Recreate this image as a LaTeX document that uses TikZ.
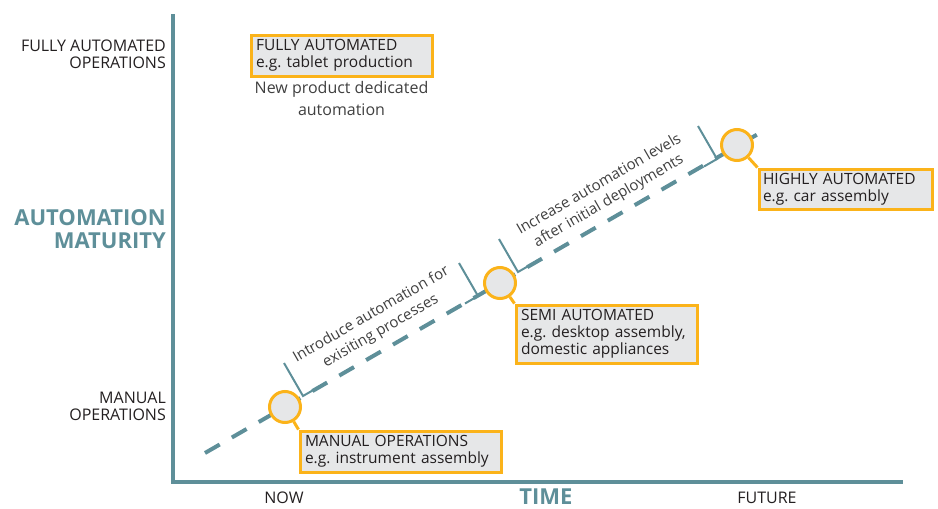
\documentclass[tikz,border=0pt]{standalone}
\usepackage{fontspec}
\setmainfont{Open Sans}
\usetikzlibrary{positioning}
\definecolor{axisteal}{HTML}{5E8F99}
\definecolor{stageamber}{HTML}{FBB31A}
\definecolor{stagegray}{HTML}{E6E7E8}
\definecolor{inkdark}{HTML}{231F20}
\frenchspacing
\begin{document}
\begin{tikzpicture}[x=1pt,y=-1pt,
	axis/.style={draw=axisteal,line width=4pt},
	track/.style={draw=axisteal,line width=4pt,dash pattern=on 17pt off 14pt},
	bracket/.style={draw=axisteal,line width=2pt},
	dot/.style={circle,draw=stageamber,fill=stagegray,line width=3pt,minimum size=31pt,inner sep=0pt},
	stage/.style={draw=stageamber,fill=stagegray,line width=3pt,anchor=north west,inner xsep=5pt,inner ysep=2pt,align=left,text=inkdark,font=\fontsize{15.5}{17}\selectfont},
	link/.style={draw=stageamber,line width=3pt},
	ylab/.style={inner sep=0pt,align=right,anchor=east,text=inkdark,font=\fontsize{16}{17}\selectfont},
	ytitle/.style={inner sep=0pt,align=right,anchor=east,text=axisteal,font=\bfseries\fontsize{22}{23}\selectfont},
	xlab/.style={inner sep=0pt,text=inkdark,font=\fontsize{16}{17}\selectfont},
	xtitle/.style={inner sep=0pt,text=axisteal,font=\bfseries\fontsize{22}{23}\selectfont},
	phase/.style={inner sep=0pt,align=center,rotate=30,text=black!75,font=\fontsize{15}{19}\selectfont},
	note/.style={inner sep=0pt,align=center,text=black!75,font=\fontsize{16}{22}\selectfont}]
	\useasboundingbox (0,0) rectangle (938,509);

	% axes
	\coordinate (ytop) at (173,14);
	\coordinate (origin) at (173,482);
	\coordinate (xend) at (903,482);
	\draw[axis] (ytop) -- (origin) -- (xend);

	\node[ylab] (lfull) at (166,54) {FULLY AUTOMATED\\OPERATIONS};
	\node[ytitle] (lmat) at (166,229) {AUTOMATION\\MATURITY};
	\node[ylab] (lman) at (166,406) {MANUAL\\OPERATIONS};
	\node[xlab] (lnow) at (284,498) {NOW};
	\node[xtitle] (ltime) at (546,497) {TIME};
	\node[xlab] (lfut) at (767,498) {FUTURE};

	% path of stages
	\coordinate (pstart) at (205,453);
	\coordinate (pend) at (765,130);
	\draw[track] (pstart) -- (pend);

	\coordinate (b1) at (303,396);
	\coordinate (b2) at (478,296);
	\coordinate (b3) at (518,272);
	\coordinate (b4) at (717,159);
	\draw[bracket] (b1) ++(-19,-33) -- (b1) -- ++(13,-7.5);
	\draw[bracket] (b2) ++(-19,-33) -- (b2) -- ++(-13,7.5);
	\draw[bracket] (b3) ++(-19,-33) -- (b3) -- ++(13,-7.5);
	\draw[bracket] (b4) ++(-19,-33) -- (b4) -- ++(-13,7.5);
	\node[phase] (tintro) at (376,323) {Introduce automation for\\exisiting processes};
	\node[phase] (tincr) at (604,193) {Increase automation levels\\after initial deployments};

	% stages
	\node[dot] (dman) at (285,407) {};
	\node[dot] (dsemi) at (500,283) {};
	\node[dot] (dhigh) at (737,145) {};

	\node[stage,text width=191pt,minimum height=41pt] (sman) at (298.5,429.5) {MANUAL OPERATIONS\\e.g. instrument assembly};
	\node[stage,text width=171pt,minimum height=58pt] (ssemi) at (514.5,303.5) {SEMI AUTOMATED\\e.g. desktop assembly,\\domestic appliances};
	\node[stage,text width=165pt,minimum height=40pt,inner xsep=4pt] (shigh) at (757.5,167.5) {HIGHLY AUTOMATED\\e.g. car assembly};
	\node[stage,text width=171pt,minimum height=41pt] (sfull) at (249.5,33.5) {FULLY AUTOMATED\\e.g. tablet production};
	\node[note,below=4pt of sfull] (nfull) {New product dedicated\\automation};

	\draw[link] (dman) -- (sman.north west);
	\draw[link] (dsemi) -- (ssemi.north west);
	\draw[link] (dhigh) -- (shigh.north west);
\end{tikzpicture}
\end{document}
